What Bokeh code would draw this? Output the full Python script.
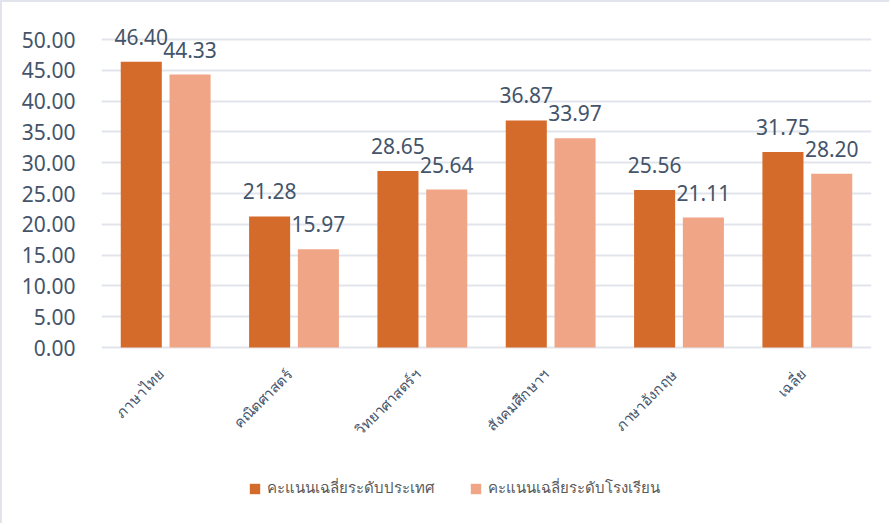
import math
from bokeh.plotting import figure
from bokeh.models import (ColumnDataSource, FactorRange, FixedTicker, NumeralTickFormatter,
                          LabelSet, Legend, LegendItem, Range1d)
from bokeh.core.properties import value
from bokeh.transform import dodge
from bokeh.embed import file_html
from bokeh.resources import INLINE

subjects = ["ภาษาไทย", "คณิตศาสตร์", "วิทยาศาสตร์ฯ", "สังคมศึกษาฯ", "ภาษาอังกฤษ", "เฉลี่ย"]
national = [46.40, 21.28, 28.65, 36.87, 25.56, 31.75]
school = [44.33, 15.97, 25.64, 33.97, 21.11, 28.20]
series_names = ["คะแนนเฉลี่ยระดับประเทศ", "คะแนนเฉลี่ยระดับโรงเรียน"]
yticks = [0, 5, 10, 15, 20, 25, 30, 35, 40, 45, 50]

c_nat = "#D56B2A"
c_sch = "#F0A686"
txt = "#44546A"
grid = "#E1E5EB"
font = "Noto Sans"

src = ColumnDataSource(dict(
    x=subjects, nat=national, sch=school, base=[0] * len(subjects),
    nat_l=[f"{v:.2f}" for v in national],
    sch_l=[f"{v:.2f}" for v in school],
))

# frame spans down to the canvas bottom so the category labels and legend sit inside it
p = figure(x_range=FactorRange(*subjects), y_range=Range1d(-28.9, 54.4),
           width=889, height=523, output_backend="svg", toolbar_location=None,
           min_border_left=99, min_border_right=20, min_border_top=10, min_border_bottom=0)
p.styles = {"border-left": "2px solid #E1E5EB", "border-top": "2px solid #E1E5EB"}
p.outline_line_color = None
p.background_fill_color = "white"
p.border_fill_color = "white"

r1 = p.vbar(x=dodge("x", -0.19, range=p.x_range), top="nat", width=0.32, source=src,
            fill_color=c_nat, line_color=None)
r2 = p.vbar(x=dodge("x", 0.19, range=p.x_range), top="sch", width=0.32, source=src,
            fill_color=c_sch, line_color=None)

for col, lab, off in [("nat", "nat_l", -0.19), ("sch", "sch_l", 0.19)]:
    ls = LabelSet(x=dodge("x", off, range=p.x_range), y=col, text=lab, source=src,
                  text_align="center", text_baseline="bottom", y_offset=17,
                  text_font=value(font), text_font_size="21px", text_color=txt)
    p.add_layout(ls)

# category labels, rotated 45 degrees, ending just below each category
p.text(x="x", y="base", text="x", source=src, angle=math.pi / 4,
       text_align="right", text_baseline="middle", x_offset=-5, y_offset=24,
       text_font=value(font), text_font_size="14.5px", text_color=txt)

p.yaxis.ticker = FixedTicker(ticks=yticks)
p.yaxis.formatter = NumeralTickFormatter(format="0.00")
p.yaxis.axis_line_color = None
p.yaxis.major_tick_line_color = None
p.yaxis.minor_tick_line_color = None
p.yaxis.major_label_standoff = 20
p.yaxis.major_label_text_font = font
p.yaxis.major_label_text_font_size = "21px"
p.yaxis.major_label_text_color = txt

p.xaxis.visible = False
p.xgrid.grid_line_color = None
p.ygrid.grid_line_color = grid
p.ygrid.grid_line_width = 2

legend = Legend(items=[LegendItem(label=series_names[0], renderers=[r1]),
                       LegendItem(label=series_names[1], renderers=[r2])],
                orientation="horizontal", location=(147, 25),
                glyph_width=13, glyph_height=13, label_standoff=6, spacing=34,
                padding=0, margin=0, border_line_color=None, background_fill_alpha=0,
                label_text_font=font, label_text_font_size="15px", label_text_color="#595959")
p.add_layout(legend, "center")

open("out.html", "w").write(file_html(p, INLINE))
